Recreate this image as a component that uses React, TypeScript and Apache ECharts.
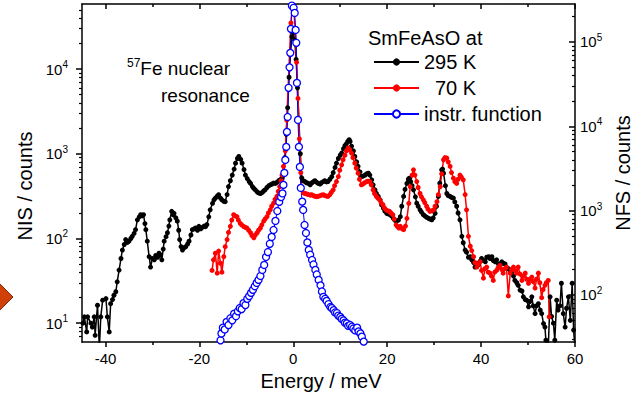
import React, { useEffect, useRef } from "react";
import * as echarts from "echarts";

// ---- data (Energy meV, counts) ----
const categoriesNote = "Energy / meV";

const nis295K: [number, number][] = [
  [-44.8, 10], [-44.5, 11.9], [-44.0, 7.9], [-43.8, 11.9], [-43.1, 10], [-42.8, 9], [-42.4, 11.9], [-42.2, 7.2],
  [-41.7, 16.3], [-41.3, 5], [-41.0, 11.9], [-40.6, 18.7], [-39.9, 19.5], [-39.6, 11.9], [-39.2, 7.9], [-38.9, 17],
  [-38.5, 19], [-38.2, 21.4], [-37.8, 23.5], [-37.5, 30.8], [-37.1, 42.4], [-36.7, 58], [-36.4, 73], [-36.0, 85],
  [-35.7, 97], [-35.3, 90], [-35.0, 93], [-34.6, 100], [-34.3, 106], [-33.9, 115], [-33.6, 127], [-33.2, 166],
  [-32.8, 180], [-32.5, 191], [-32.2, 185], [-31.9, 191], [-31.6, 150], [-31.4, 127], [-31.1, 93], [-30.7, 61],
  [-30.4, 46], [-30.0, 58], [-29.6, 56], [-29.3, 63], [-28.9, 60], [-28.6, 67], [-28.3, 64], [-28.0, 56],
  [-27.7, 75], [-27.5, 93], [-27.1, 105], [-26.8, 117], [-26.5, 140], [-26.3, 166], [-25.9, 209], [-25.6, 190],
  [-25.4, 198], [-25.0, 175], [-24.7, 160], [-24.4, 125], [-24.2, 97], [-23.9, 80], [-23.6, 73], [-23.2, 78],
  [-22.9, 80], [-22.5, 86], [-22.2, 93], [-21.8, 110], [-21.5, 127], [-21.1, 130], [-20.8, 133], [-20.4, 125],
  [-20.1, 139], [-19.7, 130], [-19.4, 135], [-19.0, 140], [-18.7, 138], [-18.4, 146], [-18.0, 180], [-17.7, 218],
  [-17.2, 260], [-16.9, 285], [-16.6, 300], [-16.2, 315], [-15.9, 328], [-15.5, 300], [-15.2, 286], [-14.8, 275],
  [-14.5, 272], [-14.1, 330], [-13.8, 410], [-13.4, 480], [-13.0, 560], [-12.6, 660], [-12.3, 775], [-11.9, 880],
  [-11.6, 930], [-11.2, 860], [-10.9, 775], [-10.5, 650], [-10.2, 560], [-9.8, 510], [-9.4, 470], [-9.1, 447],
  [-8.7, 410], [-8.4, 390], [-8.1, 375], [-7.7, 355], [-7.4, 345], [-7.0, 340], [-6.6, 350], [-6.3, 365],
  [-6.0, 375], [-5.6, 400], [-5.2, 420], [-4.9, 430], [-4.5, 440], [-4.2, 450], [-3.8, 447], [-3.5, 460],
  [-3.1, 480], [-2.8, 492], [-2.4, 520], [-2.1, 560], [-1.8, 900], [-1.5, 1700], [-1.2, 3500], [-0.9, 8000],
  [-0.6, 15000], [-0.3, 24000], [0.0, 27000], [0.3, 22000], [0.6, 13000], [0.9, 6000], [1.2, 2500], [1.5, 1000],
  [1.8, 520], [2.1, 480], [2.5, 470], [2.8, 455], [3.2, 447], [3.6, 430], [4.0, 455], [4.3, 470],
  [4.6, 480], [5.0, 460], [5.3, 447], [5.7, 440], [6.0, 455], [6.4, 470], [6.7, 480], [7.1, 465],
  [7.4, 470], [7.8, 500], [8.2, 538], [8.5, 600], [8.9, 690], [9.2, 775], [9.6, 880], [10.0, 960],
  [10.3, 1020], [10.7, 1150], [11.0, 1250], [11.3, 1310], [11.6, 1400], [11.9, 1466], [12.1, 1400], [12.4, 1230],
  [12.8, 1080], [13.1, 930], [13.5, 800], [13.8, 710], [14.2, 610], [14.5, 538], [14.9, 545], [15.3, 560],
  [15.6, 580], [16.0, 590], [16.3, 560], [16.7, 492], [17.0, 430], [17.4, 375], [17.7, 340], [18.1, 314],
  [18.5, 286], [18.8, 250], [19.2, 228], [19.5, 210], [19.9, 198], [20.2, 195], [20.6, 191], [20.9, 185],
  [21.3, 173], [21.6, 165], [22.0, 160], [22.4, 165], [22.8, 181], [23.1, 240], [23.5, 314], [23.8, 380],
  [24.2, 447], [24.5, 500], [24.7, 515], [25.0, 470], [25.3, 420], [25.6, 375], [26.0, 310], [26.3, 261],
  [26.6, 240], [27.0, 218], [27.3, 205], [27.7, 191], [28.0, 185], [28.4, 178], [28.8, 173], [29.1, 170],
  [29.5, 166], [29.8, 175], [30.2, 198], [30.5, 240], [30.9, 314], [31.2, 450], [31.6, 647], [31.8, 660],
  [32.0, 590], [32.4, 420], [32.7, 340], [33.0, 320], [33.4, 314], [33.7, 305], [34.1, 300], [34.4, 270],
  [34.8, 240], [35.1, 200], [35.5, 166], [35.9, 106], [36.2, 89], [36.6, 73], [36.9, 69], [37.3, 60],
  [37.7, 61], [38.0, 56], [38.4, 52], [38.7, 46], [39.1, 51], [39.4, 49], [39.8, 54], [40.1, 58],
  [40.5, 55], [40.9, 53], [41.2, 60], [41.6, 61], [41.9, 58], [42.3, 61], [42.6, 55], [43.0, 53],
  [43.3, 56], [43.7, 50], [44.0, 48], [44.4, 53], [44.7, 51], [45.1, 50], [45.4, 46], [45.8, 44],
  [46.2, 42], [46.5, 40], [46.9, 36], [47.2, 32], [47.6, 30], [47.9, 28], [48.3, 24.6], [48.7, 24],
  [49.0, 20.5], [49.4, 19], [49.7, 18.7], [50.1, 15.6], [50.4, 18], [50.8, 20.5], [51.1, 16], [51.5, 13],
  [51.8, 16], [52.2, 17], [52.6, 14.3], [52.9, 13], [53.3, 9.9], [53.6, 9], [53.8, 6.3], [54.3, 5],
  [54.7, 20.5], [55.0, 12], [55.4, 10], [55.7, 6.3], [56.1, 18.7], [56.4, 14.3], [56.8, 16], [57.1, 29.6],
  [57.5, 13], [57.9, 9], [58.2, 15], [58.6, 20.5], [59.0, 10.8], [59.4, 29.6], [59.7, 8.3], [60.0, 5],
];

const nis70K: [number, number][] = [
  [-17.3, 42], [-17.0, 56], [-16.6, 67], [-16.2, 39], [-15.9, 71], [-15.5, 51], [-15.2, 40], [-14.8, 61],
  [-14.5, 80], [-14.1, 97], [-13.8, 118], [-13.4, 139], [-13.1, 165], [-12.7, 191], [-12.4, 185], [-12.0, 181],
  [-11.7, 165], [-11.3, 151], [-11.0, 145], [-10.6, 139], [-10.3, 136], [-9.9, 133], [-9.5, 125], [-9.1, 117],
  [-8.8, 108], [-8.4, 102], [-8.1, 110], [-7.7, 117], [-7.4, 125], [-7.0, 133], [-6.7, 145], [-6.3, 160],
  [-6.0, 170], [-5.6, 181], [-5.3, 200], [-4.9, 218], [-4.6, 240], [-4.2, 261], [-3.9, 290], [-3.5, 314],
  [-3.2, 360], [-2.9, 410], [-2.6, 480], [-2.4, 560], [-2.1, 710], [-1.7, 1085], [-1.4, 2500], [-1.1, 6000],
  [-0.8, 15000], [-0.5, 35000], [-0.2, 55000], [0.1, 50000], [0.4, 30000], [0.7, 12000], [1.0, 4500], [1.3, 1500],
  [1.6, 600], [1.8, 380], [2.2, 345], [2.5, 340], [2.9, 335], [3.2, 330], [3.6, 325], [3.9, 328],
  [4.3, 320], [4.6, 315], [5.0, 312], [5.3, 314], [5.7, 320], [6.0, 325], [6.4, 328], [6.7, 322],
  [7.1, 316], [7.4, 314], [7.8, 330], [8.1, 350], [8.5, 375], [8.8, 420], [9.2, 470], [9.6, 538],
  [9.9, 640], [10.3, 740], [10.6, 850], [11.0, 960], [11.3, 1080], [11.7, 1170], [12.0, 1120], [12.4, 1020],
  [12.7, 900], [13.1, 775], [13.4, 680], [13.8, 590], [14.1, 500], [14.5, 430], [14.8, 440], [15.2, 455],
  [15.6, 470], [15.9, 475], [16.3, 470], [16.6, 430], [17.0, 375], [17.3, 340], [17.7, 314], [18.0, 300],
  [18.4, 286], [18.7, 265], [19.1, 250], [19.4, 230], [19.8, 218], [20.1, 212], [20.5, 209], [20.8, 200],
  [21.2, 191], [21.5, 170], [21.9, 145], [22.2, 138], [22.5, 133], [22.8, 139], [23.2, 130], [23.5, 127],
  [23.9, 140], [24.2, 173], [24.6, 260], [24.9, 410], [25.3, 560], [25.6, 647], [25.9, 560], [26.3, 470],
  [26.6, 400], [27.0, 340], [27.3, 310], [27.7, 286], [28.0, 265], [28.4, 240], [28.7, 222], [29.1, 209],
  [29.5, 212], [29.9, 218], [30.2, 240], [30.6, 272], [30.9, 330], [31.3, 410], [31.6, 580], [32.0, 850],
  [32.3, 900], [32.7, 890], [33.0, 800], [33.4, 710], [33.7, 600], [34.1, 515], [34.4, 470], [34.8, 447],
  [35.1, 500], [35.5, 560], [35.8, 530], [36.2, 492], [36.6, 330], [36.9, 218], [37.3, 106], [37.7, 81],
  [38.0, 72], [38.4, 61], [38.7, 52], [39.1, 46], [39.4, 50], [39.8, 53], [40.1, 42], [40.5, 34],
  [40.8, 44], [41.2, 46], [41.5, 40], [41.9, 39], [42.2, 36], [42.6, 32], [42.9, 40], [43.3, 42],
  [43.6, 45], [44.0, 48], [44.4, 43], [44.7, 39], [45.1, 44], [45.4, 46], [45.8, 21], [46.2, 39],
  [46.5, 43], [46.9, 46], [47.2, 42], [47.6, 39], [47.9, 46], [48.3, 38], [48.7, 32], [49.0, 36],
  [49.4, 39], [49.7, 33], [50.1, 29.6], [50.4, 33], [50.8, 35], [51.1, 31], [51.5, 26], [51.8, 33],
  [52.2, 39], [52.5, 30], [52.9, 20], [53.2, 25], [53.6, 28], [53.9, 30], [54.3, 32], [54.5, 11.9],
];

const nfsInstr: [number, number][] = [
  [-15.5, 29], [-15.3, 35], [-15.0, 41], [-14.6, 39], [-14.2, 48], [-13.8, 44], [-13.4, 53], [-13.0, 50],
  [-12.6, 60], [-12.2, 56], [-11.8, 64], [-11.4, 70], [-11.0, 68], [-10.6, 80], [-10.2, 76], [-9.8, 90],
  [-9.4, 97], [-9.0, 106], [-8.6, 115], [-8.2, 127], [-7.8, 139], [-7.4, 151], [-7.0, 168], [-6.6, 198],
  [-6.2, 227], [-5.8, 282], [-5.4, 323], [-5.0, 404], [-4.6, 488], [-4.2, 590], [-3.8, 755], [-3.4, 990],
  [-3.0, 1270], [-2.6, 1450], [-2.3, 1600], [-2.1, 2020], [-1.9, 2800], [-1.7, 3990], [-1.5, 5700], [-1.35, 8590],
  [-1.2, 12900], [-1.0, 28600], [-0.8, 50000], [-0.64, 74300], [-0.5, 143000], [-0.3, 270000], [0.07, 254000], [0.3, 221000],
  [0.5, 139000], [0.64, 97700], [0.78, 32700], [1.0, 11900], [1.2, 5700], [1.4, 3300], [1.6, 1860], [1.9, 1280],
  [2.1, 1020], [2.4, 676], [2.7, 543], [3.0, 420], [3.3, 342], [3.6, 300], [4.0, 260], [4.3, 230],
  [4.7, 198], [5.0, 175], [5.4, 151], [5.8, 130], [6.1, 110], [6.4, 95], [6.8, 90], [7.1, 85],
  [7.5, 78], [7.9, 72], [8.2, 70], [8.6, 66], [8.9, 62], [9.3, 61], [9.6, 57], [10.0, 55],
  [10.3, 52], [10.7, 50], [11.0, 47], [11.4, 46], [11.7, 43], [12.1, 44], [12.5, 42], [12.8, 40],
  [13.2, 38], [13.6, 41], [13.9, 37], [14.3, 35], [14.6, 32], [15.0, 28],
];

const seriesNames = ["295 K", "70 K", "instr. function"];
const xMajorTicks = [-40, -20, 0, 20, 40, 60];
const xMinorTicks = [-30, -10, 10, 30, 50];
const nisMajorTicks = [10, 100, 1000, 10000];
const nfsMajorTicks = [100, 1000, 10000, 100000];

const FONT = 'Arial, "Liberation Sans", sans-serif';

function minorLogTicks(lo: number, hi: number): number[] {
  const out: number[] = [];
  for (let d = 1; d <= 1e6; d *= 10) {
    for (let m = 2; m <= 9; m++) {
      const v = m * d;
      if (v > lo && v < hi) out.push(v);
    }
  }
  return out;
}

export default function App() {
  const ref = useRef<HTMLDivElement>(null);
  useEffect(() => {
    if (!ref.current) return;
    const chart = echarts.init(ref.current, undefined, { renderer: "svg" });
    const black = "#000";
    const axisLine = { show: true, onZero: false, lineStyle: { color: black, width: 1.5 } };
    const noLine = { show: false, onZero: false };
    const supFmt = (v: number) => `{b|10}{s|${Math.round(Math.log10(v))}}`;
    const supRich = {
      b: { fontSize: 15, fontFamily: FONT, color: black },
      s: { fontSize: 10, fontFamily: FONT, color: black, padding: [0, 0, 9, 0] },
    };
    const xBase = { type: "value", min: -45, max: 60, splitLine: { show: false } };
    const nisMin = 6, nisMax = 58600, nfsMin = 27.7, nfsMax = 282000;
    chart.setOption({
      animation: false,
      backgroundColor: "#fff",
      grid: { left: 82, right: 58, top: 4, bottom: 54, containLabel: false, outerBoundsMode: "none" },
      legend: {
        orient: "vertical",
        left: 368,
        top: 47,
        itemWidth: 45,
        itemHeight: 9,
        itemGap: 6,
        data: [
          { name: seriesNames[0] },
          { name: seriesNames[1], textStyle: { padding: [0, 0, 0, 11] } },
          { name: seriesNames[2] },
        ],
        textStyle: { fontSize: 20, fontFamily: FONT, color: black },
      },
      xAxis: [
        {
          ...xBase,
          position: "bottom",
          axisLine,
          axisTick: { show: true, customValues: xMajorTicks, length: 5, inside: false, lineStyle: { color: black, width: 1.5 } },
          axisLabel: { customValues: xMajorTicks, fontSize: 15, color: black, fontFamily: FONT, margin: 9 },
          name: "Energy / meV",
          nameLocation: "middle",
          nameGap: 28,
          nameTextStyle: { fontSize: 20, color: black, fontFamily: FONT, padding: [0, 15, 0, 0] },
        },
        {
          ...xBase,
          position: "bottom",
          axisLine: noLine,
          axisTick: { show: true, customValues: xMinorTicks, length: 3, inside: false, lineStyle: { color: black, width: 1.5 } },
          axisLabel: { show: false },
        },
        {
          ...xBase,
          position: "top",
          axisLine,
          axisTick: { show: true, customValues: xMajorTicks, length: 5, inside: true, lineStyle: { color: black, width: 1.5 } },
          axisLabel: { show: false },
        },
        {
          ...xBase,
          position: "top",
          axisLine: noLine,
          axisTick: { show: true, customValues: xMinorTicks, length: 3, inside: true, lineStyle: { color: black, width: 1.5 } },
          axisLabel: { show: false },
        },
      ],
      yAxis: [
        {
          type: "log",
          logBase: 10,
          position: "left",
          min: nisMin,
          max: nisMax,
          splitLine: { show: false },
          axisLine,
          axisTick: { show: true, customValues: nisMajorTicks, length: 6, inside: false, lineStyle: { color: black, width: 1.5 } },
          axisLabel: { customValues: nisMajorTicks, formatter: supFmt, rich: supRich, margin: 14 },
          name: "NIS / counts",
          nameLocation: "middle",
          nameRotate: 90,
          nameGap: 44,
          nameTextStyle: { fontSize: 20, color: black, fontFamily: FONT, padding: [0, 26, 0, 0] },
        },
        {
          type: "log",
          logBase: 10,
          position: "left",
          min: nisMin,
          max: nisMax,
          splitLine: { show: false },
          axisLine: noLine,
          axisTick: { show: true, customValues: minorLogTicks(nisMin, nisMax), length: 3, inside: false, lineStyle: { color: black, width: 1.2 } },
          axisLabel: { show: false },
        },
        {
          type: "log",
          logBase: 10,
          position: "right",
          min: nfsMin,
          max: nfsMax,
          splitLine: { show: false },
          axisLine,
          axisTick: { show: true, customValues: nfsMajorTicks, length: 6, inside: true, lineStyle: { color: black, width: 1.5 } },
          axisLabel: { customValues: nfsMajorTicks, formatter: supFmt, rich: supRich, margin: 5 },
          name: "NFS / counts",
          nameLocation: "middle",
          nameRotate: 90,
          nameGap: 38,
          nameTextStyle: { fontSize: 20, color: black, fontFamily: FONT },
        },
        {
          type: "log",
          logBase: 10,
          position: "right",
          min: nfsMin,
          max: nfsMax,
          splitLine: { show: false },
          axisLine: noLine,
          axisTick: { show: true, customValues: minorLogTicks(nfsMin, nfsMax), length: 3, inside: true, lineStyle: { color: black, width: 1.2 } },
          axisLabel: { show: false },
        },
      ],
      graphic: [
        {
          type: "polygon",
          shape: { points: [[13, 297], [-15, 269], [-43, 297], [-15, 325]] },
          style: { fill: "#cf4109", stroke: "#7d2605", lineWidth: 1 },
        },
        {
          type: "text",
          x: 368,
          y: 28,
          style: { text: "SmFeAsO at", fontSize: 20, fontFamily: FONT, fill: black },
        },
        {
          type: "text",
          x: 127,
          y: 57,
          style: {
            text: "{s|57}{b|Fe nuclear}",
            rich: {
              s: { fontSize: 12, fontFamily: FONT, fill: black, padding: [0, 0, 10, 0] },
              b: { fontSize: 19, fontFamily: FONT, fill: black },
            },
          },
        },
        {
          type: "text",
          x: 161,
          y: 86,
          style: { text: "resonance", fontSize: 19, fontFamily: FONT, fill: black },
        },
      ],
      series: [
        {
          name: seriesNames[0],
          type: "line",
          xAxisIndex: 0,
          yAxisIndex: 0,
          data: nis295K,
          showAllSymbol: true,
          symbol: "circle",
          symbolSize: 5,
          lineStyle: { color: black, width: 1.5 },
          itemStyle: { color: black },
        },
        {
          name: seriesNames[1],
          type: "line",
          xAxisIndex: 0,
          yAxisIndex: 0,
          data: nis70K,
          showAllSymbol: true,
          symbol: "circle",
          symbolSize: 5,
          lineStyle: { color: "#ff0000", width: 1.5 },
          itemStyle: { color: "#ff0000" },
        },
        {
          name: seriesNames[2],
          type: "line",
          xAxisIndex: 0,
          yAxisIndex: 2,
          data: nfsInstr,
          showAllSymbol: true,
          symbol: "circle",
          symbolSize: 7,
          lineStyle: { color: "#0000ff", width: 1 },
          itemStyle: { color: "#ffffff", borderColor: "#0000ff", borderWidth: 1.3 },
        },
      ],
    });
    return () => chart.dispose();
  }, []);
  return (
    <div
      ref={ref}
      aria-label={categoriesNote}
      style={{ position: "absolute", left: 0, top: 0, width: 633, height: 396 }}
    />
  );
}
